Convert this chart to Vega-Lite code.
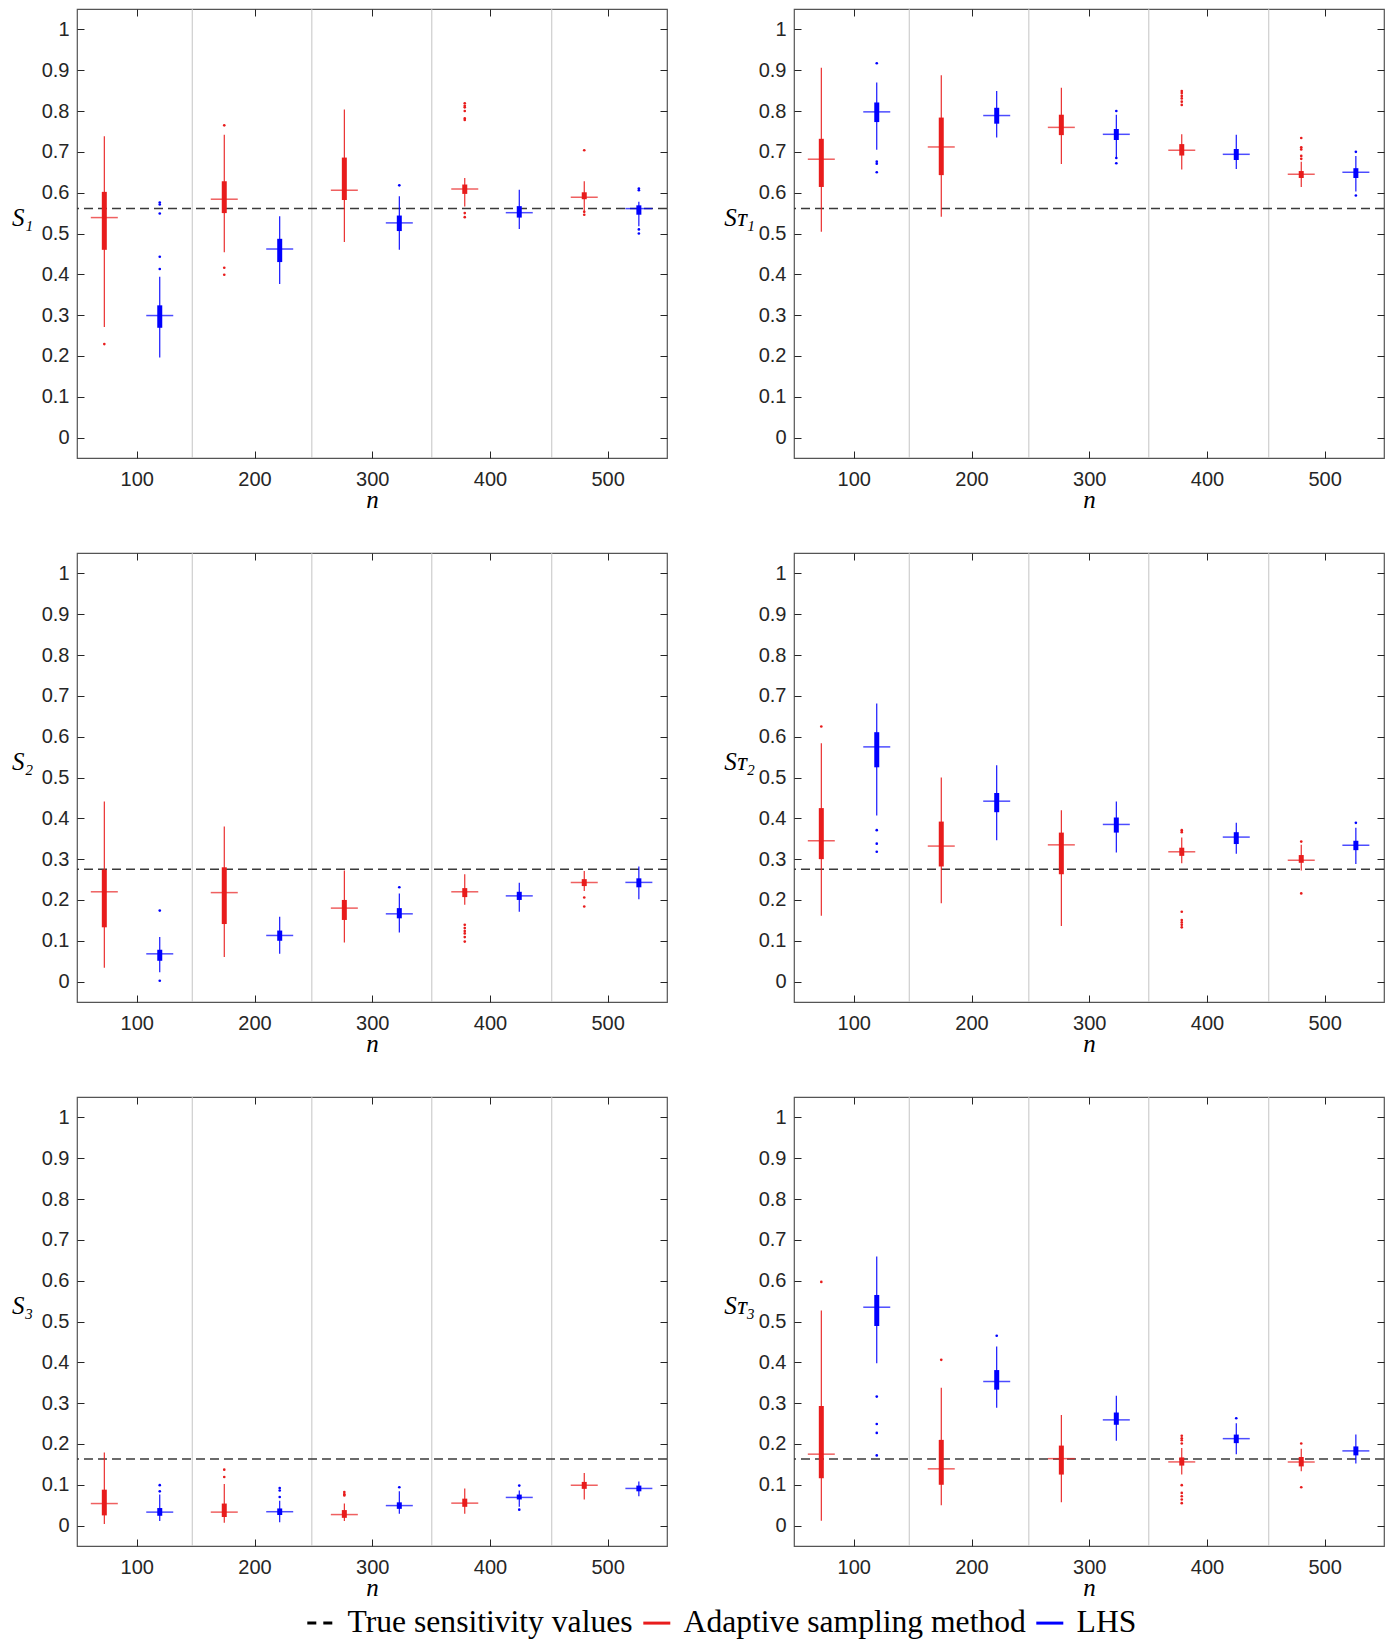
{
"$schema": "https://vega.github.io/schema/vega-lite/v6.json",
"padding": {"left": 10, "top": 7, "right": 5, "bottom": 0},
"background": "white",
"datasets": {
"seps": [{"sep":147.1},{"sep":248.7},{"sep":350.6},{"sep":452.5}],
"truth": [{"panel":"S1","v":0.561},{"panel":"ST1","v":0.561},{"panel":"S2","v":0.275},{"panel":"ST2","v":0.275},{"panel":"S3","v":0.163},{"panel":"ST3","v":0.163}],
"boxes": [
{"panel":"S1","method":"Adaptive sampling method","pos":72.4,"lo":0.271,"q1":0.46,"med":0.539,"q3":0.602,"hi":0.738},
{"panel":"S1","method":"LHS","pos":119.5,"lo":0.196,"q1":0.269,"med":0.299,"q3":0.324,"hi":0.394},
{"panel":"S1","method":"Adaptive sampling method","pos":174.3,"lo":0.454,"q1":0.55,"med":0.584,"q3":0.628,"hi":0.742},
{"panel":"S1","method":"LHS","pos":221.4,"lo":0.376,"q1":0.43,"med":0.462,"q3":0.487,"hi":0.542},
{"panel":"S1","method":"Adaptive sampling method","pos":276.3,"lo":0.479,"q1":0.582,"med":0.606,"q3":0.686,"hi":0.804},
{"panel":"S1","method":"LHS","pos":323.0,"lo":0.46,"q1":0.506,"med":0.526,"q3":0.544,"hi":0.591},
{"panel":"S1","method":"Adaptive sampling method","pos":378.6,"lo":0.566,"q1":0.597,"med":0.609,"q3":0.62,"hi":0.636},
{"panel":"S1","method":"LHS","pos":424.9,"lo":0.511,"q1":0.539,"med":0.551,"q3":0.567,"hi":0.607},
{"panel":"S1","method":"Adaptive sampling method","pos":480.1,"lo":0.554,"q1":0.584,"med":0.589,"q3":0.601,"hi":0.628},
{"panel":"S1","method":"LHS","pos":526.5,"lo":0.518,"q1":0.546,"med":0.561,"q3":0.569,"hi":0.578},
{"panel":"ST1","method":"Adaptive sampling method","pos":72.4,"lo":0.504,"q1":0.614,"med":0.682,"q3":0.732,"hi":0.906},
{"panel":"ST1","method":"LHS","pos":119.5,"lo":0.705,"q1":0.773,"med":0.798,"q3":0.821,"hi":0.87},
{"panel":"ST1","method":"Adaptive sampling method","pos":174.3,"lo":0.541,"q1":0.643,"med":0.712,"q3":0.784,"hi":0.888},
{"panel":"ST1","method":"LHS","pos":221.4,"lo":0.735,"q1":0.769,"med":0.789,"q3":0.808,"hi":0.849},
{"panel":"ST1","method":"Adaptive sampling method","pos":276.3,"lo":0.67,"q1":0.741,"med":0.76,"q3":0.791,"hi":0.857},
{"panel":"ST1","method":"LHS","pos":323.0,"lo":0.685,"q1":0.729,"med":0.743,"q3":0.756,"hi":0.791},
{"panel":"ST1","method":"Adaptive sampling method","pos":378.6,"lo":0.657,"q1":0.691,"med":0.704,"q3":0.719,"hi":0.743},
{"panel":"ST1","method":"LHS","pos":424.9,"lo":0.658,"q1":0.68,"med":0.694,"q3":0.707,"hi":0.742},
{"panel":"ST1","method":"Adaptive sampling method","pos":480.1,"lo":0.614,"q1":0.636,"med":0.645,"q3":0.653,"hi":0.676},
{"panel":"ST1","method":"LHS","pos":526.5,"lo":0.603,"q1":0.636,"med":0.65,"q3":0.66,"hi":0.69},
{"panel":"S2","method":"Adaptive sampling method","pos":72.4,"lo":0.034,"q1":0.133,"med":0.22,"q3":0.274,"hi":0.441},
{"panel":"S2","method":"LHS","pos":119.5,"lo":0.023,"q1":0.051,"med":0.068,"q3":0.078,"hi":0.109},
{"panel":"S2","method":"Adaptive sampling method","pos":174.3,"lo":0.06,"q1":0.141,"med":0.218,"q3":0.28,"hi":0.38},
{"panel":"S2","method":"LHS","pos":221.4,"lo":0.068,"q1":0.1,"med":0.113,"q3":0.125,"hi":0.159},
{"panel":"S2","method":"Adaptive sampling method","pos":276.3,"lo":0.096,"q1":0.151,"med":0.18,"q3":0.2,"hi":0.272},
{"panel":"S2","method":"LHS","pos":323.0,"lo":0.12,"q1":0.155,"med":0.166,"q3":0.18,"hi":0.216},
{"panel":"S2","method":"Adaptive sampling method","pos":378.6,"lo":0.188,"q1":0.207,"med":0.22,"q3":0.229,"hi":0.263},
{"panel":"S2","method":"LHS","pos":424.9,"lo":0.171,"q1":0.2,"med":0.21,"q3":0.22,"hi":0.242},
{"panel":"S2","method":"Adaptive sampling method","pos":480.1,"lo":0.222,"q1":0.234,"med":0.243,"q3":0.251,"hi":0.271},
{"panel":"S2","method":"LHS","pos":526.5,"lo":0.202,"q1":0.231,"med":0.243,"q3":0.253,"hi":0.282},
{"panel":"ST2","method":"Adaptive sampling method","pos":72.4,"lo":0.161,"q1":0.3,"med":0.345,"q3":0.425,"hi":0.584},
{"panel":"ST2","method":"LHS","pos":119.5,"lo":0.407,"q1":0.525,"med":0.575,"q3":0.611,"hi":0.681},
{"panel":"ST2","method":"Adaptive sampling method","pos":174.3,"lo":0.192,"q1":0.282,"med":0.332,"q3":0.392,"hi":0.5},
{"panel":"ST2","method":"LHS","pos":221.4,"lo":0.346,"q1":0.415,"med":0.442,"q3":0.462,"hi":0.53},
{"panel":"ST2","method":"Adaptive sampling method","pos":276.3,"lo":0.136,"q1":0.263,"med":0.335,"q3":0.365,"hi":0.42},
{"panel":"ST2","method":"LHS","pos":323.0,"lo":0.316,"q1":0.365,"med":0.385,"q3":0.402,"hi":0.441},
{"panel":"ST2","method":"Adaptive sampling method","pos":378.6,"lo":0.29,"q1":0.308,"med":0.318,"q3":0.328,"hi":0.353},
{"panel":"ST2","method":"LHS","pos":424.9,"lo":0.313,"q1":0.337,"med":0.354,"q3":0.366,"hi":0.389},
{"panel":"ST2","method":"Adaptive sampling method","pos":480.1,"lo":0.272,"q1":0.291,"med":0.297,"q3":0.31,"hi":0.335},
{"panel":"ST2","method":"LHS","pos":526.5,"lo":0.288,"q1":0.322,"med":0.334,"q3":0.345,"hi":0.377},
{"panel":"S3","method":"Adaptive sampling method","pos":72.4,"lo":0.004,"q1":0.025,"med":0.054,"q3":0.088,"hi":0.179},
{"panel":"S3","method":"LHS","pos":119.5,"lo":0.011,"q1":0.024,"med":0.033,"q3":0.043,"hi":0.076},
{"panel":"S3","method":"Adaptive sampling method","pos":174.3,"lo":0.007,"q1":0.021,"med":0.033,"q3":0.054,"hi":0.102},
{"panel":"S3","method":"LHS","pos":221.4,"lo":0.008,"q1":0.026,"med":0.034,"q3":0.042,"hi":0.061},
{"panel":"S3","method":"Adaptive sampling method","pos":276.3,"lo":0.011,"q1":0.019,"med":0.027,"q3":0.038,"hi":0.054},
{"panel":"S3","method":"LHS","pos":323.0,"lo":0.029,"q1":0.041,"med":0.049,"q3":0.057,"hi":0.084},
{"panel":"S3","method":"Adaptive sampling method","pos":378.6,"lo":0.029,"q1":0.046,"med":0.055,"q3":0.066,"hi":0.091},
{"panel":"S3","method":"LHS","pos":424.9,"lo":0.046,"q1":0.064,"med":0.069,"q3":0.076,"hi":0.086},
{"panel":"S3","method":"Adaptive sampling method","pos":480.1,"lo":0.064,"q1":0.09,"med":0.099,"q3":0.107,"hi":0.129},
{"panel":"S3","method":"LHS","pos":526.5,"lo":0.072,"q1":0.084,"med":0.091,"q3":0.098,"hi":0.108},
{"panel":"ST3","method":"Adaptive sampling method","pos":72.4,"lo":0.012,"q1":0.116,"med":0.175,"q3":0.293,"hi":0.527},
{"panel":"ST3","method":"LHS","pos":119.5,"lo":0.398,"q1":0.489,"med":0.535,"q3":0.565,"hi":0.659},
{"panel":"ST3","method":"Adaptive sampling method","pos":174.3,"lo":0.05,"q1":0.1,"med":0.139,"q3":0.21,"hi":0.338},
{"panel":"ST3","method":"LHS","pos":221.4,"lo":0.289,"q1":0.333,"med":0.353,"q3":0.381,"hi":0.439},
{"panel":"ST3","method":"Adaptive sampling method","pos":276.3,"lo":0.057,"q1":0.125,"med":0.164,"q3":0.196,"hi":0.271},
{"panel":"ST3","method":"LHS","pos":323.0,"lo":0.208,"q1":0.247,"med":0.259,"q3":0.277,"hi":0.318},
{"panel":"ST3","method":"Adaptive sampling method","pos":378.6,"lo":0.125,"q1":0.147,"med":0.156,"q3":0.167,"hi":0.19},
{"panel":"ST3","method":"LHS","pos":424.9,"lo":0.175,"q1":0.202,"med":0.213,"q3":0.223,"hi":0.251},
{"panel":"ST3","method":"Adaptive sampling method","pos":480.1,"lo":0.133,"q1":0.145,"med":0.156,"q3":0.168,"hi":0.188},
{"panel":"ST3","method":"LHS","pos":526.5,"lo":0.152,"q1":0.172,"med":0.183,"q3":0.194,"hi":0.223}
],
"outliers": [
{"panel":"S1","method":"Adaptive sampling method","pos":72.4,"v":0.229},
{"panel":"S1","method":"Adaptive sampling method","pos":174.3,"v":0.765},
{"panel":"S1","method":"Adaptive sampling method","pos":174.3,"v":0.416},
{"panel":"S1","method":"Adaptive sampling method","pos":174.3,"v":0.399},
{"panel":"S1","method":"Adaptive sampling method","pos":378.6,"v":0.819},
{"panel":"S1","method":"Adaptive sampling method","pos":378.6,"v":0.813},
{"panel":"S1","method":"Adaptive sampling method","pos":378.6,"v":0.809},
{"panel":"S1","method":"Adaptive sampling method","pos":378.6,"v":0.8},
{"panel":"S1","method":"Adaptive sampling method","pos":378.6,"v":0.782},
{"panel":"S1","method":"Adaptive sampling method","pos":378.6,"v":0.778},
{"panel":"S1","method":"Adaptive sampling method","pos":378.6,"v":0.55},
{"panel":"S1","method":"Adaptive sampling method","pos":378.6,"v":0.54},
{"panel":"S1","method":"Adaptive sampling method","pos":480.1,"v":0.704},
{"panel":"S1","method":"Adaptive sampling method","pos":480.1,"v":0.553},
{"panel":"S1","method":"Adaptive sampling method","pos":480.1,"v":0.546},
{"panel":"S1","method":"LHS","pos":119.5,"v":0.576},
{"panel":"S1","method":"LHS","pos":119.5,"v":0.571},
{"panel":"S1","method":"LHS","pos":119.5,"v":0.549},
{"panel":"S1","method":"LHS","pos":119.5,"v":0.443},
{"panel":"S1","method":"LHS","pos":119.5,"v":0.413},
{"panel":"S1","method":"LHS","pos":323.0,"v":0.618},
{"panel":"S1","method":"LHS","pos":526.5,"v":0.61},
{"panel":"S1","method":"LHS","pos":526.5,"v":0.606},
{"panel":"S1","method":"LHS","pos":526.5,"v":0.51},
{"panel":"S1","method":"LHS","pos":526.5,"v":0.5},
{"panel":"ST1","method":"Adaptive sampling method","pos":378.6,"v":0.849},
{"panel":"ST1","method":"Adaptive sampling method","pos":378.6,"v":0.844},
{"panel":"ST1","method":"Adaptive sampling method","pos":378.6,"v":0.837},
{"panel":"ST1","method":"Adaptive sampling method","pos":378.6,"v":0.831},
{"panel":"ST1","method":"Adaptive sampling method","pos":378.6,"v":0.823},
{"panel":"ST1","method":"Adaptive sampling method","pos":378.6,"v":0.815},
{"panel":"ST1","method":"Adaptive sampling method","pos":480.1,"v":0.734},
{"panel":"ST1","method":"Adaptive sampling method","pos":480.1,"v":0.711},
{"panel":"ST1","method":"Adaptive sampling method","pos":480.1,"v":0.706},
{"panel":"ST1","method":"Adaptive sampling method","pos":480.1,"v":0.69},
{"panel":"ST1","method":"Adaptive sampling method","pos":480.1,"v":0.683},
{"panel":"ST1","method":"LHS","pos":119.5,"v":0.917},
{"panel":"ST1","method":"LHS","pos":119.5,"v":0.676},
{"panel":"ST1","method":"LHS","pos":119.5,"v":0.671},
{"panel":"ST1","method":"LHS","pos":119.5,"v":0.65},
{"panel":"ST1","method":"LHS","pos":323.0,"v":0.8},
{"panel":"ST1","method":"LHS","pos":323.0,"v":0.685},
{"panel":"ST1","method":"LHS","pos":323.0,"v":0.672},
{"panel":"ST1","method":"LHS","pos":526.5,"v":0.7},
{"panel":"ST1","method":"LHS","pos":526.5,"v":0.593},
{"panel":"S2","method":"Adaptive sampling method","pos":378.6,"v":0.139},
{"panel":"S2","method":"Adaptive sampling method","pos":378.6,"v":0.131},
{"panel":"S2","method":"Adaptive sampling method","pos":378.6,"v":0.124},
{"panel":"S2","method":"Adaptive sampling method","pos":378.6,"v":0.118},
{"panel":"S2","method":"Adaptive sampling method","pos":378.6,"v":0.109},
{"panel":"S2","method":"Adaptive sampling method","pos":378.6,"v":0.098},
{"panel":"S2","method":"Adaptive sampling method","pos":480.1,"v":0.206},
{"panel":"S2","method":"Adaptive sampling method","pos":480.1,"v":0.184},
{"panel":"S2","method":"LHS","pos":119.5,"v":0.174},
{"panel":"S2","method":"LHS","pos":119.5,"v":0.002},
{"panel":"S2","method":"LHS","pos":323.0,"v":0.231},
{"panel":"ST2","method":"Adaptive sampling method","pos":72.4,"v":0.625},
{"panel":"ST2","method":"Adaptive sampling method","pos":378.6,"v":0.371},
{"panel":"ST2","method":"Adaptive sampling method","pos":378.6,"v":0.366},
{"panel":"ST2","method":"Adaptive sampling method","pos":378.6,"v":0.171},
{"panel":"ST2","method":"Adaptive sampling method","pos":378.6,"v":0.151},
{"panel":"ST2","method":"Adaptive sampling method","pos":378.6,"v":0.145},
{"panel":"ST2","method":"Adaptive sampling method","pos":378.6,"v":0.139},
{"panel":"ST2","method":"Adaptive sampling method","pos":378.6,"v":0.133},
{"panel":"ST2","method":"Adaptive sampling method","pos":480.1,"v":0.343},
{"panel":"ST2","method":"Adaptive sampling method","pos":480.1,"v":0.216},
{"panel":"ST2","method":"LHS","pos":119.5,"v":0.371},
{"panel":"ST2","method":"LHS","pos":119.5,"v":0.338},
{"panel":"ST2","method":"LHS","pos":119.5,"v":0.318},
{"panel":"ST2","method":"LHS","pos":526.5,"v":0.389},
{"panel":"S3","method":"Adaptive sampling method","pos":174.3,"v":0.137},
{"panel":"S3","method":"Adaptive sampling method","pos":174.3,"v":0.119},
{"panel":"S3","method":"Adaptive sampling method","pos":276.3,"v":0.082},
{"panel":"S3","method":"Adaptive sampling method","pos":276.3,"v":0.077},
{"panel":"S3","method":"Adaptive sampling method","pos":276.3,"v":0.074},
{"panel":"S3","method":"LHS","pos":119.5,"v":0.099},
{"panel":"S3","method":"LHS","pos":119.5,"v":0.084},
{"panel":"S3","method":"LHS","pos":221.4,"v":0.092},
{"panel":"S3","method":"LHS","pos":221.4,"v":0.086},
{"panel":"S3","method":"LHS","pos":221.4,"v":0.07},
{"panel":"S3","method":"LHS","pos":323.0,"v":0.094},
{"panel":"S3","method":"LHS","pos":424.9,"v":0.098},
{"panel":"S3","method":"LHS","pos":424.9,"v":0.039},
{"panel":"ST3","method":"Adaptive sampling method","pos":72.4,"v":0.597},
{"panel":"ST3","method":"Adaptive sampling method","pos":174.3,"v":0.406},
{"panel":"ST3","method":"Adaptive sampling method","pos":378.6,"v":0.22},
{"panel":"ST3","method":"Adaptive sampling method","pos":378.6,"v":0.214},
{"panel":"ST3","method":"Adaptive sampling method","pos":378.6,"v":0.209},
{"panel":"ST3","method":"Adaptive sampling method","pos":378.6,"v":0.201},
{"panel":"ST3","method":"Adaptive sampling method","pos":378.6,"v":0.099},
{"panel":"ST3","method":"Adaptive sampling method","pos":378.6,"v":0.08},
{"panel":"ST3","method":"Adaptive sampling method","pos":378.6,"v":0.072},
{"panel":"ST3","method":"Adaptive sampling method","pos":378.6,"v":0.064},
{"panel":"ST3","method":"Adaptive sampling method","pos":378.6,"v":0.055},
{"panel":"ST3","method":"Adaptive sampling method","pos":480.1,"v":0.201},
{"panel":"ST3","method":"Adaptive sampling method","pos":480.1,"v":0.094},
{"panel":"ST3","method":"LHS","pos":119.5,"v":0.316},
{"panel":"ST3","method":"LHS","pos":119.5,"v":0.249},
{"panel":"ST3","method":"LHS","pos":119.5,"v":0.227},
{"panel":"ST3","method":"LHS","pos":119.5,"v":0.172},
{"panel":"ST3","method":"LHS","pos":221.4,"v":0.465},
{"panel":"ST3","method":"LHS","pos":424.9,"v":0.263}
]
},
"concat": [
{"width":590,"height":449,"layer":[
{"data":{"name":"seps"},"mark":{"type":"rule","color":"#c4c4c4","strokeWidth":1},"encoding":{"x":{"field":"sep","type":"quantitative","scale":{"domain":[49.2,550.4],"nice":false,"zero":false},"axis":{"orient":"bottom","values":[100,200,300,400,500],"labelPadding":18,"title":"n","titleFontSize":25,"titleBaseline":"alphabetic","titleY":49.5}}}},
{"data":{"name":"truth"},"transform":[{"filter":"datum.panel==='S1'"}],"mark":{"type":"rule","color":"#3a3a3a","strokeWidth":1.5,"strokeDash":[9,5]},"encoding":{"y":{"field":"v","type":"quantitative","scale":{"domain":[-0.05,1.05],"nice":false,"zero":false},"axis":{"orient":"left","values":[0,0.1,0.2,0.3,0.4,0.5,0.6,0.7,0.8,0.9,1],"format":"~g","labelPadding":15,"title":"S₁","titleFontSize":25,"titleAngle":0,"titleAlign":"center","titleBaseline":"alphabetic","titleX":-55,"titleY":216}}}},
{"data":{"name":"boxes"},"transform":[{"filter":"datum.panel==='S1'"}],"mark":{"type":"rule","strokeWidth":1.1},"encoding":{"x":{"field":"pos","type":"quantitative","scale":{"domain":[49.2,550.4],"nice":false,"zero":false},"axis":{"orient":"top","values":[100,200,300,400,500],"labels":false,"title":null}},"y":{"field":"lo","type":"quantitative","scale":{"domain":[-0.05,1.05],"nice":false,"zero":false},"axis":{"orient":"right","values":[0,0.1,0.2,0.3,0.4,0.5,0.6,0.7,0.8,0.9,1],"labels":false,"title":null}},"y2":{"field":"hi"},"color":{"field":"method","type":"nominal","scale":{"domain":["True sensitivity values","Adaptive sampling method","LHS"],"range":["#000000","#e81c1c","#0000ff"]},"legend":null}}},
{"data":{"name":"boxes"},"transform":[{"filter":"datum.panel==='S1'"}],"mark":{"type":"rule","strokeWidth":5},"encoding":{"x":{"field":"pos","type":"quantitative","scale":{"domain":[49.2,550.4],"nice":false,"zero":false},"axis":null},"y":{"field":"q1","type":"quantitative","scale":{"domain":[-0.05,1.05],"nice":false,"zero":false},"axis":null},"y2":{"field":"q3"},"color":{"field":"method","type":"nominal","scale":{"domain":["True sensitivity values","Adaptive sampling method","LHS"],"range":["#000000","#e81c1c","#0000ff"]},"legend":null}}},
{"data":{"name":"boxes"},"transform":[{"filter":"datum.panel==='S1'"}],"mark":{"type":"tick","orient":"horizontal","size":27,"thickness":1.5},"encoding":{"x":{"field":"pos","type":"quantitative","scale":{"domain":[49.2,550.4],"nice":false,"zero":false},"axis":null},"y":{"field":"med","type":"quantitative","scale":{"domain":[-0.05,1.05],"nice":false,"zero":false},"axis":null},"color":{"field":"method","type":"nominal","scale":{"domain":["True sensitivity values","Adaptive sampling method","LHS"],"range":["#000000","#e81c1c","#0000ff"]},"legend":null}}},
{"data":{"name":"outliers"},"transform":[{"filter":"datum.panel==='S1'"}],"mark":{"type":"circle","size":7,"opacity":1},"encoding":{"x":{"field":"pos","type":"quantitative","scale":{"domain":[49.2,550.4],"nice":false,"zero":false},"axis":null},"y":{"field":"v","type":"quantitative","scale":{"domain":[-0.05,1.05],"nice":false,"zero":false},"axis":null},"color":{"field":"method","type":"nominal","scale":{"domain":["True sensitivity values","Adaptive sampling method","LHS"],"range":["#000000","#e81c1c","#0000ff"]},"legend":null}}}
],"resolve":{"axis":{"x":"independent","y":"independent"}}},
{"width":590,"height":449,"layer":[
{"data":{"name":"seps"},"mark":{"type":"rule","color":"#c4c4c4","strokeWidth":1},"encoding":{"x":{"field":"sep","type":"quantitative","scale":{"domain":[49.2,550.4],"nice":false,"zero":false},"axis":{"orient":"bottom","values":[100,200,300,400,500],"labelPadding":18,"title":"n","titleFontSize":25,"titleBaseline":"alphabetic","titleY":49.5}}}},
{"data":{"name":"truth"},"transform":[{"filter":"datum.panel==='ST1'"}],"mark":{"type":"rule","color":"#3a3a3a","strokeWidth":1.5,"strokeDash":[9,5]},"encoding":{"y":{"field":"v","type":"quantitative","scale":{"domain":[-0.05,1.05],"nice":false,"zero":false},"axis":{"orient":"left","values":[0,0.1,0.2,0.3,0.4,0.5,0.6,0.7,0.8,0.9,1],"format":"~g","labelPadding":15,"title":"Sᴛ₁","titleFontSize":25,"titleAngle":0,"titleAlign":"center","titleBaseline":"alphabetic","titleX":-55,"titleY":216}}}},
{"data":{"name":"boxes"},"transform":[{"filter":"datum.panel==='ST1'"}],"mark":{"type":"rule","strokeWidth":1.1},"encoding":{"x":{"field":"pos","type":"quantitative","scale":{"domain":[49.2,550.4],"nice":false,"zero":false},"axis":{"orient":"top","values":[100,200,300,400,500],"labels":false,"title":null}},"y":{"field":"lo","type":"quantitative","scale":{"domain":[-0.05,1.05],"nice":false,"zero":false},"axis":{"orient":"right","values":[0,0.1,0.2,0.3,0.4,0.5,0.6,0.7,0.8,0.9,1],"labels":false,"title":null}},"y2":{"field":"hi"},"color":{"field":"method","type":"nominal","scale":{"domain":["True sensitivity values","Adaptive sampling method","LHS"],"range":["#000000","#e81c1c","#0000ff"]},"legend":null}}},
{"data":{"name":"boxes"},"transform":[{"filter":"datum.panel==='ST1'"}],"mark":{"type":"rule","strokeWidth":5},"encoding":{"x":{"field":"pos","type":"quantitative","scale":{"domain":[49.2,550.4],"nice":false,"zero":false},"axis":null},"y":{"field":"q1","type":"quantitative","scale":{"domain":[-0.05,1.05],"nice":false,"zero":false},"axis":null},"y2":{"field":"q3"},"color":{"field":"method","type":"nominal","scale":{"domain":["True sensitivity values","Adaptive sampling method","LHS"],"range":["#000000","#e81c1c","#0000ff"]},"legend":null}}},
{"data":{"name":"boxes"},"transform":[{"filter":"datum.panel==='ST1'"}],"mark":{"type":"tick","orient":"horizontal","size":27,"thickness":1.5},"encoding":{"x":{"field":"pos","type":"quantitative","scale":{"domain":[49.2,550.4],"nice":false,"zero":false},"axis":null},"y":{"field":"med","type":"quantitative","scale":{"domain":[-0.05,1.05],"nice":false,"zero":false},"axis":null},"color":{"field":"method","type":"nominal","scale":{"domain":["True sensitivity values","Adaptive sampling method","LHS"],"range":["#000000","#e81c1c","#0000ff"]},"legend":null}}},
{"data":{"name":"outliers"},"transform":[{"filter":"datum.panel==='ST1'"}],"mark":{"type":"circle","size":7,"opacity":1},"encoding":{"x":{"field":"pos","type":"quantitative","scale":{"domain":[49.2,550.4],"nice":false,"zero":false},"axis":null},"y":{"field":"v","type":"quantitative","scale":{"domain":[-0.05,1.05],"nice":false,"zero":false},"axis":null},"color":{"field":"method","type":"nominal","scale":{"domain":["True sensitivity values","Adaptive sampling method","LHS"],"range":["#000000","#e81c1c","#0000ff"]},"legend":null}}}
],"resolve":{"axis":{"x":"independent","y":"independent"}}},
{"width":590,"height":449,"layer":[
{"data":{"name":"seps"},"mark":{"type":"rule","color":"#c4c4c4","strokeWidth":1},"encoding":{"x":{"field":"sep","type":"quantitative","scale":{"domain":[49.2,550.4],"nice":false,"zero":false},"axis":{"orient":"bottom","values":[100,200,300,400,500],"labelPadding":18,"title":"n","titleFontSize":25,"titleBaseline":"alphabetic","titleY":49.5}}}},
{"data":{"name":"truth"},"transform":[{"filter":"datum.panel==='S2'"}],"mark":{"type":"rule","color":"#3a3a3a","strokeWidth":1.5,"strokeDash":[9,5]},"encoding":{"y":{"field":"v","type":"quantitative","scale":{"domain":[-0.05,1.05],"nice":false,"zero":false},"axis":{"orient":"left","values":[0,0.1,0.2,0.3,0.4,0.5,0.6,0.7,0.8,0.9,1],"format":"~g","labelPadding":15,"title":"S₂","titleFontSize":25,"titleAngle":0,"titleAlign":"center","titleBaseline":"alphabetic","titleX":-55,"titleY":216}}}},
{"data":{"name":"boxes"},"transform":[{"filter":"datum.panel==='S2'"}],"mark":{"type":"rule","strokeWidth":1.1},"encoding":{"x":{"field":"pos","type":"quantitative","scale":{"domain":[49.2,550.4],"nice":false,"zero":false},"axis":{"orient":"top","values":[100,200,300,400,500],"labels":false,"title":null}},"y":{"field":"lo","type":"quantitative","scale":{"domain":[-0.05,1.05],"nice":false,"zero":false},"axis":{"orient":"right","values":[0,0.1,0.2,0.3,0.4,0.5,0.6,0.7,0.8,0.9,1],"labels":false,"title":null}},"y2":{"field":"hi"},"color":{"field":"method","type":"nominal","scale":{"domain":["True sensitivity values","Adaptive sampling method","LHS"],"range":["#000000","#e81c1c","#0000ff"]},"legend":null}}},
{"data":{"name":"boxes"},"transform":[{"filter":"datum.panel==='S2'"}],"mark":{"type":"rule","strokeWidth":5},"encoding":{"x":{"field":"pos","type":"quantitative","scale":{"domain":[49.2,550.4],"nice":false,"zero":false},"axis":null},"y":{"field":"q1","type":"quantitative","scale":{"domain":[-0.05,1.05],"nice":false,"zero":false},"axis":null},"y2":{"field":"q3"},"color":{"field":"method","type":"nominal","scale":{"domain":["True sensitivity values","Adaptive sampling method","LHS"],"range":["#000000","#e81c1c","#0000ff"]},"legend":null}}},
{"data":{"name":"boxes"},"transform":[{"filter":"datum.panel==='S2'"}],"mark":{"type":"tick","orient":"horizontal","size":27,"thickness":1.5},"encoding":{"x":{"field":"pos","type":"quantitative","scale":{"domain":[49.2,550.4],"nice":false,"zero":false},"axis":null},"y":{"field":"med","type":"quantitative","scale":{"domain":[-0.05,1.05],"nice":false,"zero":false},"axis":null},"color":{"field":"method","type":"nominal","scale":{"domain":["True sensitivity values","Adaptive sampling method","LHS"],"range":["#000000","#e81c1c","#0000ff"]},"legend":null}}},
{"data":{"name":"outliers"},"transform":[{"filter":"datum.panel==='S2'"}],"mark":{"type":"circle","size":7,"opacity":1},"encoding":{"x":{"field":"pos","type":"quantitative","scale":{"domain":[49.2,550.4],"nice":false,"zero":false},"axis":null},"y":{"field":"v","type":"quantitative","scale":{"domain":[-0.05,1.05],"nice":false,"zero":false},"axis":null},"color":{"field":"method","type":"nominal","scale":{"domain":["True sensitivity values","Adaptive sampling method","LHS"],"range":["#000000","#e81c1c","#0000ff"]},"legend":null}}}
],"resolve":{"axis":{"x":"independent","y":"independent"}}},
{"width":590,"height":449,"layer":[
{"data":{"name":"seps"},"mark":{"type":"rule","color":"#c4c4c4","strokeWidth":1},"encoding":{"x":{"field":"sep","type":"quantitative","scale":{"domain":[49.2,550.4],"nice":false,"zero":false},"axis":{"orient":"bottom","values":[100,200,300,400,500],"labelPadding":18,"title":"n","titleFontSize":25,"titleBaseline":"alphabetic","titleY":49.5}}}},
{"data":{"name":"truth"},"transform":[{"filter":"datum.panel==='ST2'"}],"mark":{"type":"rule","color":"#3a3a3a","strokeWidth":1.5,"strokeDash":[9,5]},"encoding":{"y":{"field":"v","type":"quantitative","scale":{"domain":[-0.05,1.05],"nice":false,"zero":false},"axis":{"orient":"left","values":[0,0.1,0.2,0.3,0.4,0.5,0.6,0.7,0.8,0.9,1],"format":"~g","labelPadding":15,"title":"Sᴛ₂","titleFontSize":25,"titleAngle":0,"titleAlign":"center","titleBaseline":"alphabetic","titleX":-55,"titleY":216}}}},
{"data":{"name":"boxes"},"transform":[{"filter":"datum.panel==='ST2'"}],"mark":{"type":"rule","strokeWidth":1.1},"encoding":{"x":{"field":"pos","type":"quantitative","scale":{"domain":[49.2,550.4],"nice":false,"zero":false},"axis":{"orient":"top","values":[100,200,300,400,500],"labels":false,"title":null}},"y":{"field":"lo","type":"quantitative","scale":{"domain":[-0.05,1.05],"nice":false,"zero":false},"axis":{"orient":"right","values":[0,0.1,0.2,0.3,0.4,0.5,0.6,0.7,0.8,0.9,1],"labels":false,"title":null}},"y2":{"field":"hi"},"color":{"field":"method","type":"nominal","scale":{"domain":["True sensitivity values","Adaptive sampling method","LHS"],"range":["#000000","#e81c1c","#0000ff"]},"legend":null}}},
{"data":{"name":"boxes"},"transform":[{"filter":"datum.panel==='ST2'"}],"mark":{"type":"rule","strokeWidth":5},"encoding":{"x":{"field":"pos","type":"quantitative","scale":{"domain":[49.2,550.4],"nice":false,"zero":false},"axis":null},"y":{"field":"q1","type":"quantitative","scale":{"domain":[-0.05,1.05],"nice":false,"zero":false},"axis":null},"y2":{"field":"q3"},"color":{"field":"method","type":"nominal","scale":{"domain":["True sensitivity values","Adaptive sampling method","LHS"],"range":["#000000","#e81c1c","#0000ff"]},"legend":null}}},
{"data":{"name":"boxes"},"transform":[{"filter":"datum.panel==='ST2'"}],"mark":{"type":"tick","orient":"horizontal","size":27,"thickness":1.5},"encoding":{"x":{"field":"pos","type":"quantitative","scale":{"domain":[49.2,550.4],"nice":false,"zero":false},"axis":null},"y":{"field":"med","type":"quantitative","scale":{"domain":[-0.05,1.05],"nice":false,"zero":false},"axis":null},"color":{"field":"method","type":"nominal","scale":{"domain":["True sensitivity values","Adaptive sampling method","LHS"],"range":["#000000","#e81c1c","#0000ff"]},"legend":null}}},
{"data":{"name":"outliers"},"transform":[{"filter":"datum.panel==='ST2'"}],"mark":{"type":"circle","size":7,"opacity":1},"encoding":{"x":{"field":"pos","type":"quantitative","scale":{"domain":[49.2,550.4],"nice":false,"zero":false},"axis":null},"y":{"field":"v","type":"quantitative","scale":{"domain":[-0.05,1.05],"nice":false,"zero":false},"axis":null},"color":{"field":"method","type":"nominal","scale":{"domain":["True sensitivity values","Adaptive sampling method","LHS"],"range":["#000000","#e81c1c","#0000ff"]},"legend":null}}}
],"resolve":{"axis":{"x":"independent","y":"independent"}}},
{"width":590,"height":449,"layer":[
{"data":{"name":"seps"},"mark":{"type":"rule","color":"#c4c4c4","strokeWidth":1},"encoding":{"x":{"field":"sep","type":"quantitative","scale":{"domain":[49.2,550.4],"nice":false,"zero":false},"axis":{"orient":"bottom","values":[100,200,300,400,500],"labelPadding":18,"title":"n","titleFontSize":25,"titleBaseline":"alphabetic","titleY":49.5}}}},
{"data":{"name":"truth"},"transform":[{"filter":"datum.panel==='S3'"}],"mark":{"type":"rule","color":"#3a3a3a","strokeWidth":1.5,"strokeDash":[9,5]},"encoding":{"y":{"field":"v","type":"quantitative","scale":{"domain":[-0.05,1.05],"nice":false,"zero":false},"axis":{"orient":"left","values":[0,0.1,0.2,0.3,0.4,0.5,0.6,0.7,0.8,0.9,1],"format":"~g","labelPadding":15,"title":"S₃","titleFontSize":25,"titleAngle":0,"titleAlign":"center","titleBaseline":"alphabetic","titleX":-55,"titleY":216}}}},
{"data":{"name":"boxes"},"transform":[{"filter":"datum.panel==='S3'"}],"mark":{"type":"rule","strokeWidth":1.1},"encoding":{"x":{"field":"pos","type":"quantitative","scale":{"domain":[49.2,550.4],"nice":false,"zero":false},"axis":{"orient":"top","values":[100,200,300,400,500],"labels":false,"title":null}},"y":{"field":"lo","type":"quantitative","scale":{"domain":[-0.05,1.05],"nice":false,"zero":false},"axis":{"orient":"right","values":[0,0.1,0.2,0.3,0.4,0.5,0.6,0.7,0.8,0.9,1],"labels":false,"title":null}},"y2":{"field":"hi"},"color":{"field":"method","type":"nominal","scale":{"domain":["True sensitivity values","Adaptive sampling method","LHS"],"range":["#000000","#e81c1c","#0000ff"]},"legend":{"orient":"none","legendX":228,"legendY":510,"direction":"horizontal","columns":3,"title":null,"symbolType":"stroke","symbolSize":729,"symbolStrokeWidth":3,"labelFont":"Liberation Serif","labelFontSize":31.6,"labelColor":"#000000","labelLimit":600,"labelOffset":11,"columnPadding":4,"padding":0,"symbolOffset":0,"encode":{"symbols":{"update":{"strokeDash":{"signal":"datum.value === 'True sensitivity values' ? [9, 7] : [40, 0]"}}}}}}}},
{"data":{"name":"boxes"},"transform":[{"filter":"datum.panel==='S3'"}],"mark":{"type":"rule","strokeWidth":5},"encoding":{"x":{"field":"pos","type":"quantitative","scale":{"domain":[49.2,550.4],"nice":false,"zero":false},"axis":null},"y":{"field":"q1","type":"quantitative","scale":{"domain":[-0.05,1.05],"nice":false,"zero":false},"axis":null},"y2":{"field":"q3"},"color":{"field":"method","type":"nominal","scale":{"domain":["True sensitivity values","Adaptive sampling method","LHS"],"range":["#000000","#e81c1c","#0000ff"]},"legend":null}}},
{"data":{"name":"boxes"},"transform":[{"filter":"datum.panel==='S3'"}],"mark":{"type":"tick","orient":"horizontal","size":27,"thickness":1.5},"encoding":{"x":{"field":"pos","type":"quantitative","scale":{"domain":[49.2,550.4],"nice":false,"zero":false},"axis":null},"y":{"field":"med","type":"quantitative","scale":{"domain":[-0.05,1.05],"nice":false,"zero":false},"axis":null},"color":{"field":"method","type":"nominal","scale":{"domain":["True sensitivity values","Adaptive sampling method","LHS"],"range":["#000000","#e81c1c","#0000ff"]},"legend":null}}},
{"data":{"name":"outliers"},"transform":[{"filter":"datum.panel==='S3'"}],"mark":{"type":"circle","size":7,"opacity":1},"encoding":{"x":{"field":"pos","type":"quantitative","scale":{"domain":[49.2,550.4],"nice":false,"zero":false},"axis":null},"y":{"field":"v","type":"quantitative","scale":{"domain":[-0.05,1.05],"nice":false,"zero":false},"axis":null},"color":{"field":"method","type":"nominal","scale":{"domain":["True sensitivity values","Adaptive sampling method","LHS"],"range":["#000000","#e81c1c","#0000ff"]},"legend":null}}}
],"resolve":{"axis":{"x":"independent","y":"independent"}}},
{"width":590,"height":449,"layer":[
{"data":{"name":"seps"},"mark":{"type":"rule","color":"#c4c4c4","strokeWidth":1},"encoding":{"x":{"field":"sep","type":"quantitative","scale":{"domain":[49.2,550.4],"nice":false,"zero":false},"axis":{"orient":"bottom","values":[100,200,300,400,500],"labelPadding":18,"title":"n","titleFontSize":25,"titleBaseline":"alphabetic","titleY":49.5}}}},
{"data":{"name":"truth"},"transform":[{"filter":"datum.panel==='ST3'"}],"mark":{"type":"rule","color":"#3a3a3a","strokeWidth":1.5,"strokeDash":[9,5]},"encoding":{"y":{"field":"v","type":"quantitative","scale":{"domain":[-0.05,1.05],"nice":false,"zero":false},"axis":{"orient":"left","values":[0,0.1,0.2,0.3,0.4,0.5,0.6,0.7,0.8,0.9,1],"format":"~g","labelPadding":15,"title":"Sᴛ₃","titleFontSize":25,"titleAngle":0,"titleAlign":"center","titleBaseline":"alphabetic","titleX":-55,"titleY":216}}}},
{"data":{"name":"boxes"},"transform":[{"filter":"datum.panel==='ST3'"}],"mark":{"type":"rule","strokeWidth":1.1},"encoding":{"x":{"field":"pos","type":"quantitative","scale":{"domain":[49.2,550.4],"nice":false,"zero":false},"axis":{"orient":"top","values":[100,200,300,400,500],"labels":false,"title":null}},"y":{"field":"lo","type":"quantitative","scale":{"domain":[-0.05,1.05],"nice":false,"zero":false},"axis":{"orient":"right","values":[0,0.1,0.2,0.3,0.4,0.5,0.6,0.7,0.8,0.9,1],"labels":false,"title":null}},"y2":{"field":"hi"},"color":{"field":"method","type":"nominal","scale":{"domain":["True sensitivity values","Adaptive sampling method","LHS"],"range":["#000000","#e81c1c","#0000ff"]},"legend":null}}},
{"data":{"name":"boxes"},"transform":[{"filter":"datum.panel==='ST3'"}],"mark":{"type":"rule","strokeWidth":5},"encoding":{"x":{"field":"pos","type":"quantitative","scale":{"domain":[49.2,550.4],"nice":false,"zero":false},"axis":null},"y":{"field":"q1","type":"quantitative","scale":{"domain":[-0.05,1.05],"nice":false,"zero":false},"axis":null},"y2":{"field":"q3"},"color":{"field":"method","type":"nominal","scale":{"domain":["True sensitivity values","Adaptive sampling method","LHS"],"range":["#000000","#e81c1c","#0000ff"]},"legend":null}}},
{"data":{"name":"boxes"},"transform":[{"filter":"datum.panel==='ST3'"}],"mark":{"type":"tick","orient":"horizontal","size":27,"thickness":1.5},"encoding":{"x":{"field":"pos","type":"quantitative","scale":{"domain":[49.2,550.4],"nice":false,"zero":false},"axis":null},"y":{"field":"med","type":"quantitative","scale":{"domain":[-0.05,1.05],"nice":false,"zero":false},"axis":null},"color":{"field":"method","type":"nominal","scale":{"domain":["True sensitivity values","Adaptive sampling method","LHS"],"range":["#000000","#e81c1c","#0000ff"]},"legend":null}}},
{"data":{"name":"outliers"},"transform":[{"filter":"datum.panel==='ST3'"}],"mark":{"type":"circle","size":7,"opacity":1},"encoding":{"x":{"field":"pos","type":"quantitative","scale":{"domain":[49.2,550.4],"nice":false,"zero":false},"axis":null},"y":{"field":"v","type":"quantitative","scale":{"domain":[-0.05,1.05],"nice":false,"zero":false},"axis":null},"color":{"field":"method","type":"nominal","scale":{"domain":["True sensitivity values","Adaptive sampling method","LHS"],"range":["#000000","#e81c1c","#0000ff"]},"legend":null}}}
],"resolve":{"axis":{"x":"independent","y":"independent"}}}
],
"columns": 2,
"spacing": {"row": 95, "column": 127},
"bounds": "flush",
"resolve": {"legend": {"color": "independent"}},
"config": {
"view": {"stroke": "#555555", "strokeWidth": 1.2},
"axis": {"labelFont": "Liberation Sans", "labelFontSize": 20, "labelColor": "#262626", "tickColor": "#262626", "tickSize": -7, "tickWidth": 1, "domain": false, "grid": false, "titleFont": "Liberation Serif", "titleFontStyle": "italic", "titleFontWeight": "normal", "titleColor": "#000000"}
}
}
